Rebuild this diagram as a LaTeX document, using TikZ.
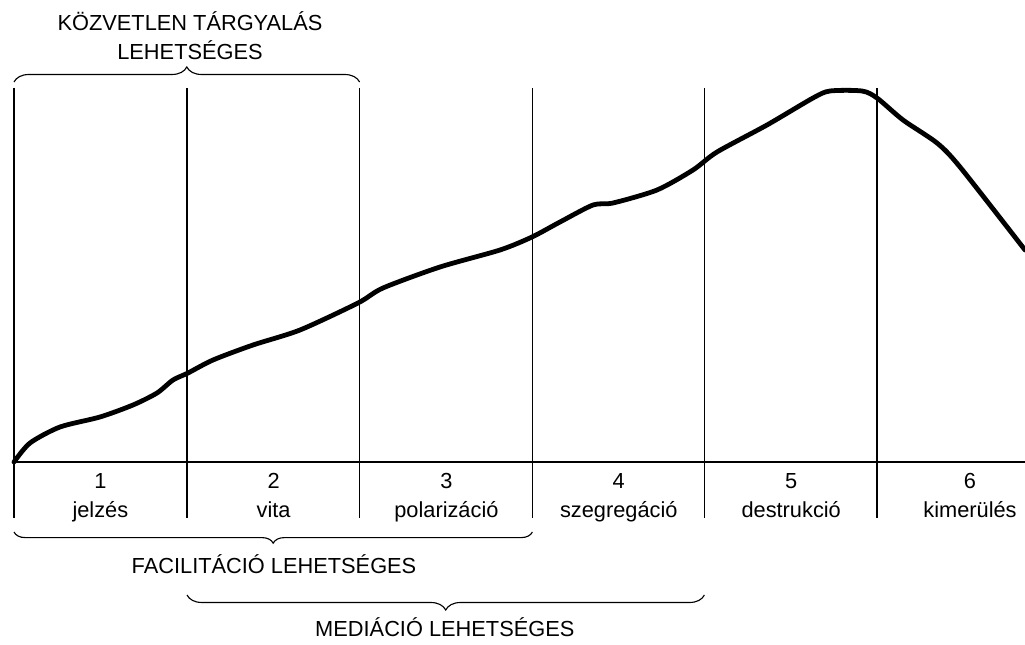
\documentclass[tikz,border=0pt]{standalone}
\usepackage{fontspec}
\setmainfont{Liberation Sans}
\usetikzlibrary{decorations.pathreplacing}

\tikzset{
  szoveg/.style={font=\fontsize{15.5}{20.6}\selectfont, inner sep=0pt},
  zarojel/.style={decorate, decoration={brace, amplitude=#1}, line width=0.8pt},
}

\begin{document}
\begin{tikzpicture}[xscale=1,yscale=1]
    \useasboundingbox (0,0) rectangle (25.625,16.1);
    % fazishatarok
    \coordinate (t0) at (0.35,13.9);   \coordinate (b0) at (0.35,3.15);
    \coordinate (t1) at (4.675,13.9);  \coordinate (b1) at (4.675,3.15);
    \coordinate (t2) at (8.99,13.9);   \coordinate (b2) at (8.99,3.15);
    \coordinate (t3) at (13.31,13.9);  \coordinate (b3) at (13.31,3.15);
    \coordinate (t4) at (17.61,13.9);  \coordinate (b4) at (17.61,3.15);
    \coordinate (t5) at (21.925,13.9); \coordinate (b5) at (21.925,3.15);
    \draw [black, line width=1pt, -] (t0) -- (b0);
    \draw [black, line width=1pt, -] (t1) -- (b1);
    \draw [black, line width=1pt, -] (t2) -- (b2);
    \draw [black, line width=1pt, -] (t3) -- (b3);
    \draw [black, line width=1pt, -] (t4) -- (b4);
    \draw [black, line width=1pt, -] (t5) -- (b5);
    \coordinate (a0) at (0.35,4.55);
    \coordinate (a1) at (25.625,4.55);
    \draw [black, line width=1pt, -] (a0) -- (a1);
    % konfliktusgorbe
    \draw [black, line width=3.4pt, line join=round, line cap=round]
      plot [smooth, tension=0.45] coordinates {
        (0.35,4.55) (0.75,5.025) (1.5,5.425) (2.5,5.675) (3.325,5.975)
        (3.925,6.275) (4.325,6.6) (4.7,6.775) (5.325,7.1) (6.325,7.475)
        (7.5,7.85) (8.95,8.525) (9.575,8.9) (11.0,9.425) (12.5,9.85)
        (13.3,10.175) (14.0,10.55) (14.825,10.975) (15.325,11.025)
        (16.425,11.35) (17.325,11.85) (17.925,12.3) (19.175,12.975)
        (20.325,13.65) (20.75,13.825) (21.55,13.825) (21.925,13.65)
        (22.575,13.1) (23.425,12.525) (24.0,11.925) (25.625,9.85)};
    % szakaszok
    \draw node (n1) [szoveg, anchor=base] at (2.51,3.9) {1};
    \draw node (n2) [szoveg, anchor=base] at (6.84,3.9) {2};
    \draw node (n3) [szoveg, anchor=base] at (11.16,3.9) {3};
    \draw node (n4) [szoveg, anchor=base] at (15.47,3.9) {4};
    \draw node (n5) [szoveg, anchor=base] at (19.78,3.9) {5};
    \draw node (n6) [szoveg, anchor=base] at (24.25,3.9) {6};
    \draw node (w1) [szoveg, anchor=base] at (2.51,3.175) {jelzés};
    \draw node (w2) [szoveg, anchor=base] at (6.84,3.175) {vita};
    \draw node (w3) [szoveg, anchor=base] at (11.16,3.175) {polarizáció};
    \draw node (w4) [szoveg, anchor=base] at (15.47,3.175) {szegregáció};
    \draw node (w5) [szoveg, anchor=base] at (19.78,3.175) {destrukció};
    \draw node (w6) [szoveg, anchor=base] at (24.25,3.175) {kimerülés};
    % zarojelek
    \coordinate (k0) at (0.35,14.05);  \coordinate (k1) at (8.99,14.05);
    \coordinate (f0) at (13.31,2.8);   \coordinate (f1) at (0.35,2.8);
    \coordinate (m0) at (17.61,1.225); \coordinate (m1) at (4.675,1.225);
    \draw [zarojel=0.375cm] (k0) -- (k1);
    \draw [zarojel=0.28cm] (f0) -- (f1);
    \draw [zarojel=0.375cm] (m0) -- (m1);
    \draw node (kozvetlen) [szoveg, align=center] at (4.75,15.2) {KÖZVETLEN TÁRGYALÁS\\LEHETSÉGES};
    \draw node (facilitacio) [szoveg, anchor=base] at (6.85,1.775) {FACILITÁCIÓ LEHETSÉGES};
    \draw node (mediacio) [szoveg, anchor=base] at (11.12,0.2) {MEDIÁCIÓ LEHETSÉGES};
  \end{tikzpicture}
\end{document}
